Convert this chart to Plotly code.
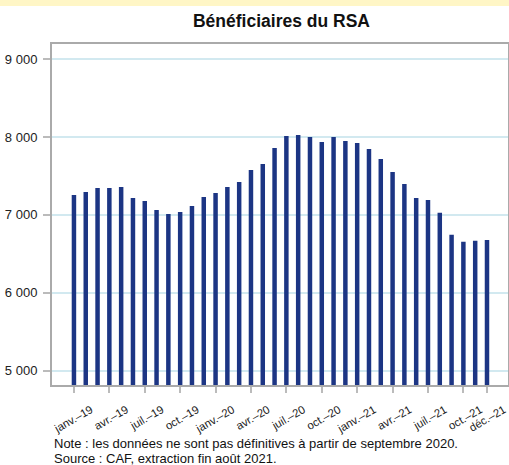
import plotly.graph_objects as go

months = ["janv.–19", "févr.–19", "mars–19", "avr.–19", "mai–19", "juin–19",
          "juil.–19", "août–19", "sept.–19", "oct.–19", "nov.–19", "déc.–19",
          "janv.–20", "févr.–20", "mars–20", "avr.–20", "mai–20", "juin–20",
          "juil.–20", "août–20", "sept.–20", "oct.–20", "nov.–20", "déc.–20",
          "janv.–21", "févr.–21", "mars–21", "avr.–21", "mai–21", "juin–21",
          "juil.–21", "août–21", "sept.–21", "oct.–21", "nov.–21", "déc.–21"]
beneficiaires = [7256, 7295, 7346, 7346, 7359, 7218, 7179, 7064, 7013, 7038, 7115, 7231,
                 7282, 7359, 7423, 7577, 7654, 7859, 8013, 8026, 8000, 7936, 8000, 7949,
                 7923, 7846, 7718, 7551, 7397, 7218, 7192, 7026, 6744, 6654, 6667, 6679]
tick_labels = ["janv.–19", "avr.–19", "juil.–19", "oct.–19", "janv.–20", "avr.–20",
               "juil.–20", "oct.–20", "janv.–21", "avr.–21", "juil.–21", "oct.–21", "déc.–21"]
y_ticks = [5000, 6000, 7000, 8000, 9000]
notes = ["Note : les données ne sont pas définitives à partir de septembre 2020.",
         "Source : CAF, extraction fin août 2021."]

PLOT_H = 465 - 44 - 80

fig = go.Figure()
fig.add_trace(go.Bar(x=months, y=beneficiaires, marker_color="#1C3584",
                     marker_line_width=0, width=0.38))

fig.update_layout(
    width=509, height=465,
    margin=dict(l=52, r=1, t=44, b=80, autoexpand=False),
    paper_bgcolor="white", plot_bgcolor="white",
    separators=", ",
    font=dict(family="Liberation Sans, Arial, sans-serif", color="#222222"),
    title=dict(text="<b>Bénéficiaires du RSA</b>", x=0.553, xanchor="center",
               y=1 - 21/465, yanchor="middle", font=dict(size=17.5, color="#111111")),
    showlegend=False,
)
fig.update_xaxes(type="category", range=[-1.86, 36.78], automargin=False,
                 tickmode="array", tickvals=tick_labels, ticktext=tick_labels,
                 tickangle=-30, tickfont=dict(size=11.3, color="#222222"),
                 ticklabelshift=17, ticklabelstandoff=6,
                 ticks="outside", ticklen=6, tickwidth=2, tickcolor="#BBBBBB",
                 showline=True, linecolor="#AAAAAA", linewidth=2, mirror=True,
                 showgrid=False, zeroline=False)
fig.update_yaxes(range=[4815, 9195], tickvals=y_ticks, tickformat=",d", automargin=False,
                 tickfont=dict(size=13, color="#222222"),
                 ticks="outside", ticklen=7, tickwidth=2, tickcolor="#BBBBBB",
                 ticklabelstandoff=3,
                 showline=True, linecolor="#AAAAAA", linewidth=2, mirror=True,
                 showgrid=True, gridcolor="#D2E9F0", gridwidth=2, zeroline=False)

fig.add_shape(type="rect", xref="paper", yref="paper", x0=-0.2, x1=1.01,
              y0=1.0 + 38/PLOT_H, y1=1.0 + 45/PLOT_H,
              fillcolor="#FFF6C6", line_width=0, layer="above")

for i, line in enumerate(notes):
    fig.add_annotation(text=line, xref="paper", yref="paper", x=0,
                       y=-(443 + 15 * i - 385) / PLOT_H,
                       xanchor="left", yanchor="middle", align="left", showarrow=False,
                       font=dict(size=13, color="#111111"))

fig.write_html("out.html", config={"displayModeBar": False},
               post_script="document.body.style.margin='0';document.body.style.overflow='hidden';")
